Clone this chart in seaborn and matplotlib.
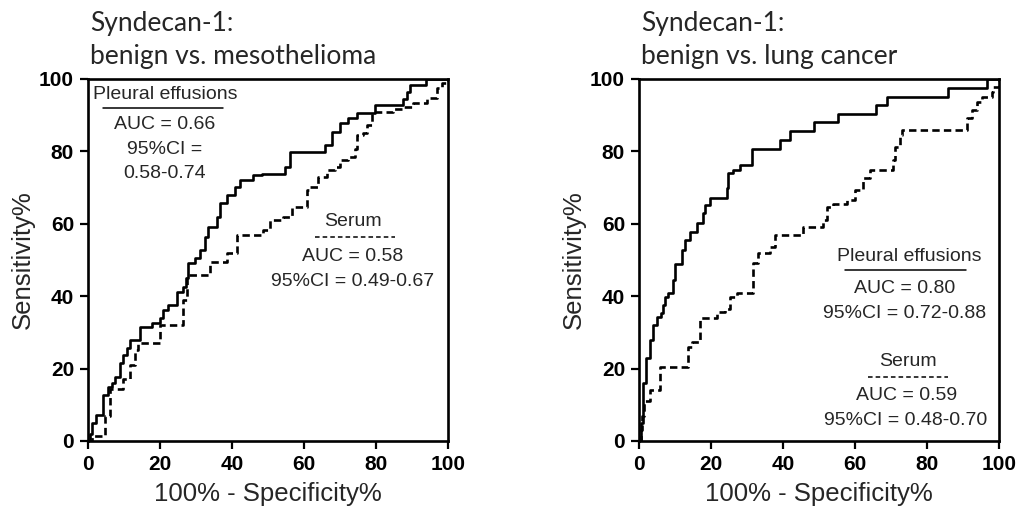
import numpy as np
import pandas as pd
import matplotlib
matplotlib.use("Agg")
import matplotlib.pyplot as plt
import seaborn as sns

# ROC step points: at each x the curve jumps up to y
meso_pe_x = [0, 0.6, 1.0, 2.2, 4.3, 5.6, 6.6, 7.5, 8.9, 9.8, 10.7, 11.7, 14.4, 17.7, 20.0,
             20.9, 22.3, 24.6, 26.5, 27.2, 27.9, 29.7, 31.1, 32.5, 33.4, 35.7, 36.7, 38.5,
             40.8, 42.2, 45.9, 48.2, 54.7, 56.1, 65.8, 67.7, 70.0, 72.3, 74.6, 79.7, 87.6,
             88.5, 89.4, 94.0, 100]
meso_pe_y = [0, 2.0, 4.9, 7.2, 12.7, 15.0, 15.9, 17.8, 21.5, 23.8, 25.6, 27.9, 31.6, 32.7, 33.9,
             36.2, 37.6, 41.2, 42.6, 44.9, 49.1, 50.5, 52.8, 56.4, 59.2, 62.0, 65.7, 68.0,
             70.2, 72.1, 73.5, 73.8, 75.8, 79.7, 81.8, 85.4, 87.8, 89.1, 90.5, 92.8, 94.6,
             96.5, 98.3, 100, 100]

meso_se_x = [0, 1.0, 4.6, 6.1, 9.8, 11.7, 13.1, 14.0, 20.0, 26.5, 27.5, 33.9, 38.5, 41.3,
             48.7, 50.6, 54.3, 56.6, 60.7, 61.7, 64.0, 66.3, 68.6, 70.0, 72.3, 74.2, 74.6,
             76.5, 77.4, 78.8, 84.8, 87.6, 90.4, 94.1, 97.0, 98.2, 100]
meso_se_y = [0, 1.5, 7.0, 14.3, 17.0, 21.0, 25.1, 27.0, 32.0, 39.0, 45.9, 49.5, 51.8, 56.9,
             58.3, 61.0, 62.0, 64.7, 69.3, 70.2, 73.0, 75.0, 75.8, 77.6, 78.5, 80.8, 84.5,
             85.0, 87.3, 91.0, 91.6, 92.2, 93.3, 94.7, 97.4, 98.8, 100]

lung_pe_x = [0, 0.5, 1.0, 2.0, 3.0, 4.0, 5.0, 6.0, 6.8, 7.2, 8.1, 9.5, 10.0, 11.9, 12.8,
             14.2, 16.0, 17.9, 18.3, 19.7, 24.4, 24.8, 26.2, 28.1, 31.3, 39.2, 41.9, 48.6,
             55.4, 65.8, 68.8, 85.9, 96.6, 100]
lung_pe_y = [0, 5.0, 16.0, 23.0, 28.0, 32.0, 34.3, 35.3, 37.6, 39.9, 40.8, 44.5, 48.8, 52.8,
             55.5, 57.8, 60.1, 62.9, 65.2, 67.0, 69.8, 73.9, 74.9, 76.2, 80.8, 83.1, 85.6,
             88.0, 90.3, 92.8, 95.1, 97.4, 100, 100]

lung_se_x = [0, 0.5, 0.8, 1.5, 3.0, 5.8, 13.7, 14.6, 16.9, 21.6, 23.9, 25.3, 27.1, 31.8,
             33.1, 36.4, 37.8, 45.6, 51.2, 52.1, 54.0, 57.7, 60.0, 62.3, 64.2, 70.6, 71.1,
             72.5, 73.0, 91.0, 92.4, 93.8, 95.2, 98.0, 98.4, 100]
lung_se_y = [0, 3.0, 7.0, 11.0, 14.0, 20.5, 26.0, 27.4, 33.9, 35.7, 36.6, 39.9, 41.0, 49.1,
             51.8, 53.7, 56.9, 59.2, 61.0, 64.7, 65.6, 66.6, 69.3, 72.6, 74.9, 77.6, 81.3,
             84.5, 85.9, 89.1, 91.4, 93.7, 95.1, 96.5, 97.9, 100]

titles = [["Syndecan-1:", "benign vs. mesothelioma"],
          ["Syndecan-1:", "benign vs. lung cancer"]]
pe_text = [["AUC = 0.66", "95%CI =", "0.58-0.74"], ["AUC = 0.80", "95%CI = 0.72-0.88"]]
se_text = [["AUC = 0.58", "95%CI = 0.49-0.67"], ["AUC = 0.59", "95%CI = 0.48-0.70"]]
ticks = [0, 20, 40, 60, 80, 100]

sns.set_style("ticks")
plt.rcParams['font.family'] = ['Liberation Sans', 'DejaVu Sans']

W, H = 1022, 517
fig = plt.figure(figsize=(W / 100, H / 100), dpi=100)
ax1 = fig.add_axes([88 / W, 76 / H, 360 / W, 362 / H])
ax2 = fig.add_axes([639 / W, 76 / H, 360 / W, 362 / H])

curves = [(meso_pe_x, meso_pe_y, meso_se_x, meso_se_y),
          (lung_pe_x, lung_pe_y, lung_se_x, lung_se_y)]

for k, ax in enumerate([ax1, ax2]):
    px, py, sx, sy = curves[k]
    sns.lineplot(x=sx, y=sy, ax=ax, estimator=None, sort=False, drawstyle='steps-post',
                 color='black', lw=1.9, linestyle=(0, (2.8, 1.6)))
    sns.lineplot(x=px, y=py, ax=ax, estimator=None, sort=False, drawstyle='steps-post',
                 color='black', lw=1.9)
    ax.set_xlim(0, 100)
    ax.set_ylim(0, 100)
    ax.set_xticks(ticks)
    ax.set_yticks(ticks)
    for s in ax.spines.values():
        s.set_linewidth(1.9)
        s.set_color('black')
    ax.tick_params(width=1.6, length=6, pad=4, labelsize=15, colors='black')
    for lab in ax.get_xticklabels() + ax.get_yticklabels():
        lab.set_fontweight('bold')
    ax.set_xlabel("100% - Specificity%", fontsize=18.5, labelpad=6)
    ax.set_ylabel("Sensitivity%", fontsize=18.5, labelpad=3)
    x0 = ax.get_position().x0
    fig.text(x0 + 2 / W, 1 - 31 / H, titles[k][0], family='Lato', fontsize=19, va='baseline')
    fig.text(x0 + 2 / W, 1 - 64 / H, titles[k][1], family='Lato', fontsize=19, va='baseline')

fs = 14
# left panel annotations
ax1.text(21.5, 95.6, "Pleural effusions", ha='center', va='center', fontsize=fs)
ax1.plot([4.1, 37.6], [92.1, 92.1], color='black', lw=1.1)
for t, yy in zip(pe_text[0], [87.3, 80.4, 74.0]):
    ax1.text(21.4, yy, t, ha='center', va='center', fontsize=fs)
ax1.text(73.7, 60.6, "Serum", ha='center', va='center', fontsize=fs)
ax1.plot([63.1, 85.3], [56.4, 56.4], color='black', lw=1.1, linestyle=(0, (3, 2)))
for t, yy in zip(se_text[0], [50.9, 44.0]):
    ax1.text(73.5, yy, t, ha='center', va='center', fontsize=fs)

# right panel annotations
ax2.text(75.0, 50.9, "Pleural effusions", ha='center', va='center', fontsize=fs)
ax2.plot([57.2, 90.8], [47.2, 47.2], color='black', lw=1.1)
for t, yy in zip(pe_text[1], [42.2, 35.3]):
    ax2.text(73.8, yy, t, ha='center', va='center', fontsize=fs)
ax2.text(74.6, 21.9, "Serum", ha='center', va='center', fontsize=fs)
ax2.plot([63.6, 85.8], [17.8, 17.8], color='black', lw=1.1, linestyle=(0, (3, 2)))
for t, yy in zip(se_text[1], [12.7, 5.8]):
    ax2.text(74.2, yy, t, ha='center', va='center', fontsize=fs)

fig.savefig("out.png", dpi=100)
